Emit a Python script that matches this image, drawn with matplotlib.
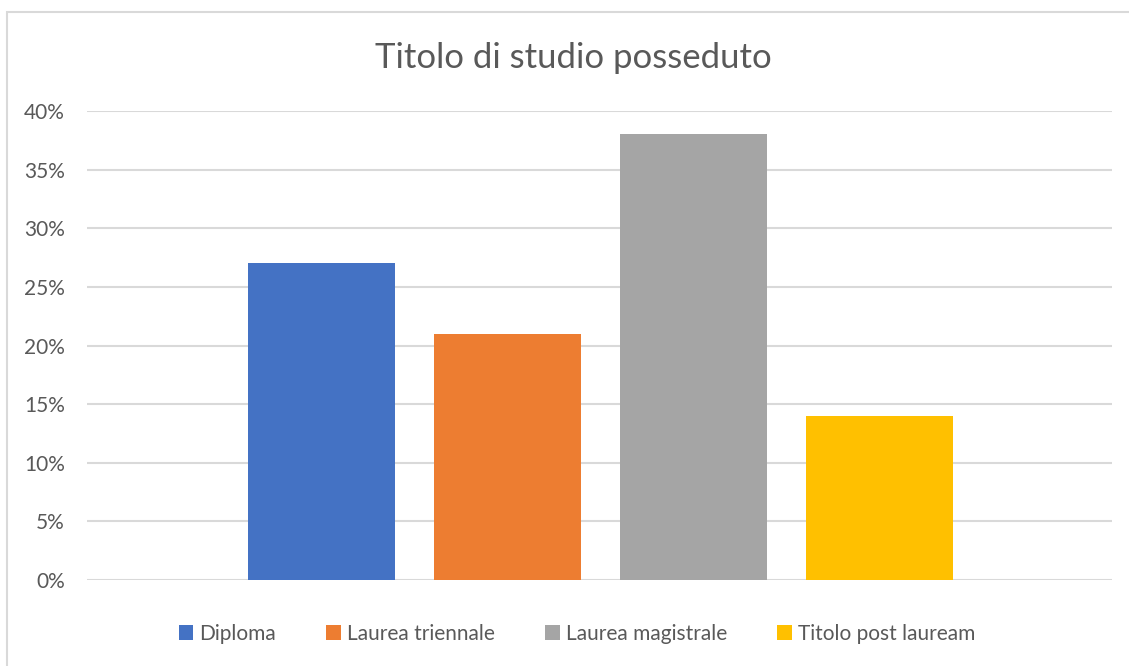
import matplotlib
matplotlib.use("Agg")
import matplotlib.pyplot as plt
from matplotlib.patches import Rectangle
from matplotlib.ticker import FuncFormatter, MultipleLocator

# share of respondents by highest qualification held
series = ["Diploma", "Laurea triennale", "Laurea magistrale", "Titolo post lauream"]
values = [0.27, 0.21, 0.38, 0.14]
colors = ["#4472C4", "#ED7D31", "#A5A5A5", "#FFC000"]

plt.rcParams["font.family"] = ["Lato", "DejaVu Sans"]
TXT = "#595959"
GRID = "#D9D9D9"

fig = plt.figure(figsize=(11.29, 6.66), dpi=100)
ax = fig.add_axes([0.0771, 0.1291, 0.9080, 0.7042])

xs = range(len(series))
bars = ax.bar(xs, values, width=0.79, color=colors, label=series, zorder=3)

ax.set_xlim(-1.258, 4.253)
ax.set_ylim(0, 0.40)
ax.yaxis.set_major_locator(MultipleLocator(0.05))
ax.yaxis.set_major_formatter(FuncFormatter(lambda v, _: f"{v * 100:.0f}%"))
ax.grid(axis="y", color=GRID, linewidth=1.5, zorder=0)
ax.set_xticks([])
ax.tick_params(axis="y", length=0, pad=16, labelsize=15, labelcolor=TXT)
for s in ax.spines.values():
    s.set_visible(False)

fig.text(0.508, 0.913, "Titolo di studio posseduto", ha="center", va="center",
         fontsize=25, color=TXT)

fig.legend(handles=bars, labels=series, loc="center", bbox_to_anchor=(0.511, 0.048),
           ncol=4, frameon=False, fontsize=15, labelcolor=TXT,
           handlelength=0.7, handleheight=0.7, handletextpad=0.3, columnspacing=2.4)

# chart-area border (right and bottom edges fall outside the canvas)
fig.patches.append(Rectangle((7 / 1129, -0.1), 1.2, 1 - 12 / 666 + 0.1,
                             transform=fig.transFigure, fill=False,
                             edgecolor=GRID, linewidth=1.5))

fig.savefig("out.png", dpi=100)
